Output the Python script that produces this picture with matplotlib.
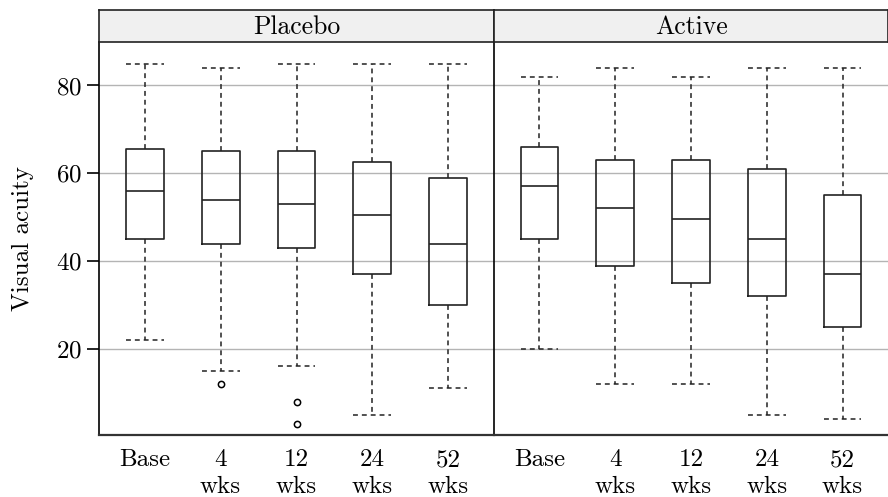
import matplotlib
matplotlib.use("Agg")
import matplotlib.pyplot as plt

plt.rcParams['font.family'] = ['cmr10', 'DejaVu Serif']
plt.rcParams['mathtext.fontset'] = 'cm'
plt.rcParams['axes.formatter.use_mathtext'] = True

groups = ["Placebo", "Active"]
visits = ["Base", "4\nwks", "12\nwks", "24\nwks", "52\nwks"]

# five-number summaries
placebo_low = [22, 15, 16, 5, 11]
placebo_q1 = [45, 44, 43, 37, 30]
placebo_med = [56, 54, 53, 50.5, 44]
placebo_q3 = [65.5, 65, 65, 62.5, 59]
placebo_high = [85, 84, 85, 85, 85]
placebo_out = [[], [12], [8, 3], [], []]

active_low = [20, 12, 12, 5, 4]
active_q1 = [45, 39, 35, 32, 25]
active_med = [57, 52, 49.5, 45, 37]
active_q3 = [66, 63, 63, 61, 55]
active_high = [82, 84, 82, 84, 84]
active_out = [[], [], [], [], []]


def make_stats(low, q1, med, q3, high, out):
  stats = []
  for i in range(len(low)):
    stats.append(dict(whislo=low[i], q1=q1[i], med=med[i], q3=q3[i],
                      whishi=high[i], fliers=out[i], label=visits[i]))
  return stats


panels = [make_stats(placebo_low, placebo_q1, placebo_med, placebo_q3, placebo_high, placebo_out),
          make_stats(active_low, active_q1, active_med, active_q3, active_high, active_out)]

W, H = 888, 497
fig = plt.figure(figsize=(W / 100, H / 100), dpi=100)

lefts = [99, 494]
rights = [494, 888]
ax_top, ax_bot, strip_top = 42, 435, 10

dash = (0, (3.2, 2.6))
line_col = "#222222"

for k in range(2):
  x0 = lefts[k] / W
  w = (rights[k] - lefts[k]) / W
  ax = fig.add_axes([x0, 1 - ax_bot / H, w, (ax_bot - ax_top) / H])
  ax.bxp(panels[k], positions=range(1, 6), widths=0.5,
         boxprops=dict(color=line_col, linewidth=1.2),
         medianprops=dict(color=line_col, linewidth=1.2),
         whiskerprops=dict(color=line_col, linewidth=1.1, linestyle=dash),
         capprops=dict(color=line_col, linewidth=1.1, linestyle=dash),
         capwidths=0.5,
         flierprops=dict(marker='o', markersize=4.5, markerfacecolor='none',
                         markeredgecolor='black', markeredgewidth=1.1))
  ax.set_xlim(0.4, 5.6)
  ax.set_ylim(0.4, 89.9)
  ax.set_yticks([20, 40, 60, 80])
  ax.yaxis.grid(True, color="#b4b4b4", linewidth=1.0)
  ax.set_axisbelow(True)
  ax.set_xticks(range(1, 6))
  ax.set_xticklabels(visits, fontsize=18, linespacing=1.3)
  ax.tick_params(axis='x', length=0, pad=10)
  ax.spines['top'].set_visible(False)
  ax.spines['right'].set_visible(False)
  ax.spines['bottom'].set_color("#333333")
  ax.spines['bottom'].set_linewidth(1.6)
  ax.spines['left'].set_color("black")
  ax.spines['left'].set_linewidth(1.2)
  if k == 0:
    ax.tick_params(axis='y', length=9, width=1.2, labelsize=18, pad=3)
    ax.set_ylabel("Visual acuity", fontsize=18, labelpad=16)
  else:
    ax.tick_params(axis='y', length=0, labelleft=False)

  # strip label on top
  sax = fig.add_axes([x0, 1 - ax_top / H, w, (ax_top - strip_top) / H])
  sax.set_facecolor("#f0f0f0")
  sax.set_xticks([])
  sax.set_yticks([])
  for s in sax.spines.values():
    s.set_color("#222222")
    s.set_linewidth(1.2)
  sax.text(0.5, 0.45, groups[k], ha='center', va='center', fontsize=18.5,
           transform=sax.transAxes)

fig.savefig("out.png", dpi=100)
